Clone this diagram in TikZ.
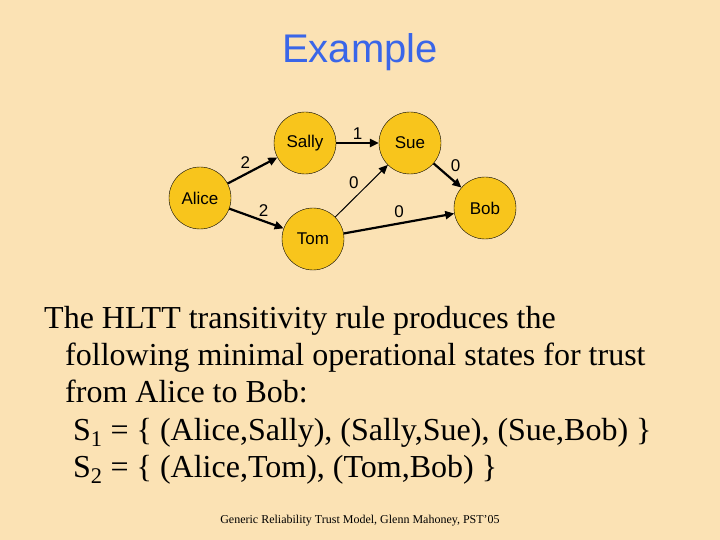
\documentclass[tikz,border=0pt]{standalone}
\usepackage{fontspec}
\setmainfont{Liberation Serif}
\newfontfamily\arialf{Liberation Sans}
\usetikzlibrary{arrows.meta}
\definecolor{bg}{HTML}{FBE2B4}
\definecolor{nodefill}{HTML}{F8C51C}
\definecolor{titleblue}{HTML}{3A66E8}
\begin{document}
\begin{tikzpicture}[x=1pt,y=-1pt,
  person/.style={circle,draw=black,fill=nodefill,minimum size=62pt,inner sep=0pt,font=\arialf\fontsize{17}{19}\selectfont},
  edge/.style={-{Triangle[length=9pt,width=8pt]},line width=2.2pt},
  thin edge/.style={-{Triangle[length=9pt,width=8pt]},line width=1pt},
  lbl/.style={font=\arialf\fontsize{17}{19}\selectfont},
  body/.style={anchor=base west,font=\fontsize{32}{34}\selectfont,inner sep=0pt}]
\fill[bg] (0,0) rectangle (720,540);
\useasboundingbox (0,0) rectangle (720,540);
\node[font=\arialf\fontsize{40}{44}\selectfont,text=titleblue] (title) at (360,52) {Example};
\node[person] (alice) at (200,198) {Alice};
\node[person] (sally) at (305,143) {Sally};
\node[person] (sue) at (410,143) {Sue};
\node[person] (bob) at (485,208) {Bob};
\node[person] (tom) at (313,239) {Tom};
\draw[edge] (alice) -- node[lbl,above left=-2pt] {2} (sally);
\draw[edge] (alice) -- node[lbl,above right=-2pt] {2} (tom);
\draw[edge] (sally) -- node[lbl,above=-1pt] {1} (sue);
\draw[edge] (sue) -- node[lbl,above right=-1pt] {0} (bob);
\draw[thin edge] (tom) -- node[lbl,above left=-1pt] {0} (sue);
\draw[edge] (tom) -- node[lbl,above=1pt] {0} (bob);
\node[body] (l1) at (44,328) {The HLTT transitivity rule produces the};
\node[body] (l2) at (65,365) {following minimal operational states for trust};
\node[body] (l3) at (65,402) {from Alice to Bob:};
\node[body] (l4) at (73,440) {S\textsubscript{1} = \{ (Alice,Sally), (Sally,Sue), (Sue,Bob) \}};
\node[body] (l5) at (73,477) {S\textsubscript{2} = \{ (Alice,Tom), (Tom,Bob) \}};
\node[font=\fontsize{12}{14}\selectfont] (foot) at (360,521) {Generic Reliability Trust Model, Glenn Mahoney, PST'05};
\end{tikzpicture}
\end{document}
